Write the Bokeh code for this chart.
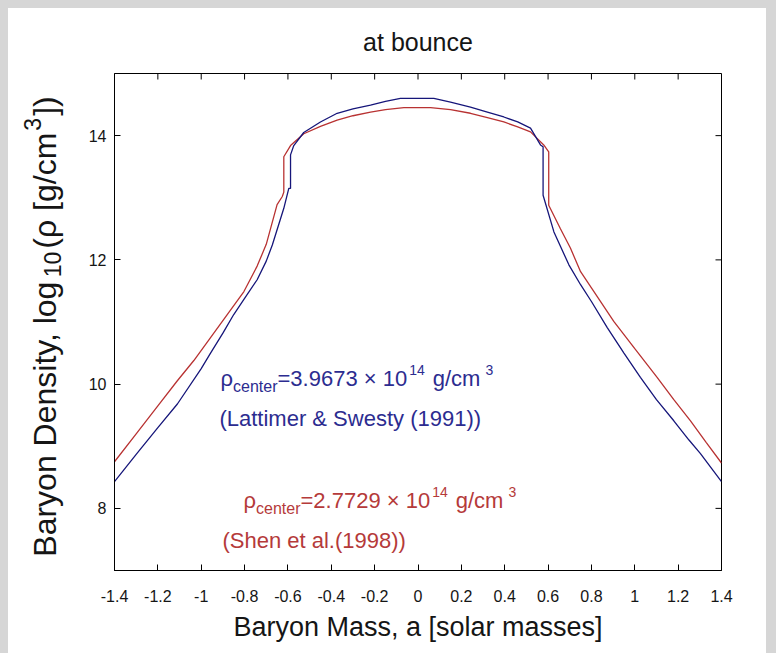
import math
from bokeh.plotting import figure
from bokeh.layouts import row
from bokeh.models import Range1d, FixedTicker, Label
from bokeh.core.properties import value
from bokeh.embed import file_html
from bokeh.resources import INLINE

# ---------------- data ----------------
x_blue = [-1.40, -1.30, -1.20, -1.11, -1.00, -0.957, -0.90, -0.85, -0.80, -0.742, -0.70, -0.672,
          -0.619, -0.596, -0.588, -0.588, -0.573, -0.527, -0.45, -0.373, -0.30, -0.219, -0.15,
          -0.081, 0.0, 0.073, 0.15, 0.242, 0.32, 0.396, 0.46, 0.519, 0.565, 0.577, 0.577, 0.627,
          0.696, 0.75, 0.80, 0.873, 0.95, 1.026, 1.10, 1.18, 1.25, 1.303, 1.40]
y_blue = [8.43, 8.87, 9.30, 9.68, 10.25, 10.50, 10.82, 11.12, 11.38, 11.68, 11.98, 12.24,
          12.83, 13.15, 13.15, 13.69, 13.84, 14.05, 14.22, 14.36, 14.43, 14.49, 14.55,
          14.60, 14.60, 14.60, 14.54, 14.46, 14.38, 14.30, 14.22, 14.12, 13.85, 13.82, 13.04, 12.45,
          11.92, 11.60, 11.33, 10.91, 10.50, 10.11, 9.75, 9.41, 9.10, 8.88, 8.43]

x_red = [-1.40, -1.30, -1.20, -1.111, -1.034, -0.957, -0.88, -0.803, -0.742, -0.70, -0.65, -0.626,
         -0.619, -0.619, -0.588, -0.527, -0.45, -0.373, -0.30, -0.219, -0.15, -0.065, 0.058, 0.15,
         0.242, 0.32, 0.396, 0.46, 0.519, 0.58, 0.603, 0.603, 0.657, 0.703, 0.75, 0.80, 0.903,
         1.00, 1.103, 1.18, 1.257, 1.33, 1.40]
y_red = [8.75, 9.20, 9.65, 10.05, 10.38, 10.75, 11.12, 11.49, 11.90, 12.25, 12.89, 13.02,
         13.09, 13.66, 13.84, 14.03, 14.15, 14.25, 14.32, 14.38, 14.42, 14.45, 14.45, 14.42,
         14.36, 14.29, 14.22, 14.14, 14.06, 13.85, 13.74, 12.88, 12.50, 12.19, 11.81, 11.55, 11.01,
         10.57, 10.11, 9.75, 9.41, 9.06, 8.73]

x_ticks = [-1.4, -1.2, -1.0, -0.8, -0.6, -0.4, -0.2, 0.0, 0.2, 0.4, 0.6, 0.8, 1.0, 1.2, 1.4]
x_tick_labels = ["-1.4", "-1.2", "-1", "-0.8", "-0.6", "-0.4", "-0.2", "0", "0.2", "0.4",
                 "0.6", "0.8", "1", "1.2", "1.4"]
y_ticks = [8, 10, 12, 14]
x_limits = [-1.4, 1.4]
y_limits = [7, 15]

title_text = "at bounce"
x_label_text = "Baryon Mass, a [solar masses]"
blue_center = "3.9673"
red_center = "2.7729"
blue_ref = "(Lattimer & Swesty (1991))"
red_ref = "(Shen et al.(1998))"

# ---------------- styling ----------------
FONT = "Liberation Sans"
INK = "#151515"
BLUE_LINE = "#16167a"
RED_LINE = "#b83232"
BLUE_TEXT = "#2c2c90"
RED_TEXT = "#b53a3a"
TOTAL_H = 645
TOP_B, BOT_B = 65, 83
FRAME_W, FRAME_H = 607, TOTAL_H - TOP_B - BOT_B
LAB_W = 68
TICK = 6

W = {'ρ': 570, 'c': 500, 'e': 556, 'n': 556, 't': 278, 'r': 333, '=': 584, '.': 278, ' ': 278,
     '×': 584, 'g': 556, '/': 278, 'm': 833, '(': 333, ')': 333, 'L': 556, 'a': 556, 'i': 222,
     '&': 667, 'S': 667, 'w': 722, 's': 500, 'y': 500, 'h': 556, 'l': 222, '[': 278, ']': 278,
     'B': 667, 'o': 556, 'D': 722, ',': 278}


def tw(s, size):
    return sum(W.get(ch, 556) for ch in s) * size / 1000.0


# ---------------- main plot ----------------
p = figure(width=758 - LAB_W, height=TOTAL_H, x_range=Range1d(*x_limits), y_range=Range1d(*y_limits),
           output_backend="svg", toolbar_location=None,
           min_border_left=106 - LAB_W, min_border_right=45, min_border_top=TOP_B, min_border_bottom=BOT_B,
           background_fill_color="white", border_fill_color="white")
p.grid.visible = False
p.outline_line_color = "black"
p.outline_line_width = 1

p.title.text = title_text
p.title.align = "center"
p.title.vertical_align = "middle"
p.title.text_font = FONT
p.title.text_font_size = "25px"
p.title.text_font_style = "normal"
p.title.text_color = INK
p.title.standoff = 34

p.line(x_red, y_red, line_color=RED_LINE, line_width=1.3)
p.line(x_blue, y_blue, line_color=BLUE_LINE, line_width=1.3)


def style_axis(ax):
    ax.major_tick_in = TICK
    ax.major_tick_out = 0
    ax.minor_tick_line_color = None
    ax.axis_line_color = "black"
    ax.axis_line_width = 1
    ax.major_tick_line_color = "black"
    ax.major_label_text_font = FONT
    ax.major_label_text_font_size = "16px"
    ax.major_label_text_color = INK
    ax.axis_label_text_font = FONT
    ax.axis_label_text_font_size = "27px"
    ax.axis_label_text_font_style = "normal"
    ax.axis_label_text_color = INK


xa = p.xaxis[0]
xa.ticker = FixedTicker(ticks=x_ticks)
xa.major_label_overrides = {t: s for t, s in zip(x_ticks, x_tick_labels)}
style_axis(xa)
xa.major_label_standoff = 19
xa.axis_label = x_label_text
xa.axis_label_standoff = 7

ya = p.yaxis[0]
ya.ticker = FixedTicker(ticks=y_ticks)
style_axis(ya)
ya.major_label_standoff = 8

# inward ticks on the top and right edges of the box (no labels there)
dy_tick = TICK * (y_limits[1] - y_limits[0]) / FRAME_H
dx_tick = TICK * (x_limits[1] - x_limits[0]) / FRAME_W
p.segment(x0=x_ticks, y0=[y_limits[1]] * len(x_ticks), x1=x_ticks,
          y1=[y_limits[1] - dy_tick] * len(x_ticks), line_color="black", line_width=1)
p.segment(x0=[x_limits[1]] * len(y_ticks), y0=y_ticks, x1=[x_limits[1] - dx_tick] * len(y_ticks),
          y1=y_ticks, line_color="black", line_width=1)


def place(pieces, x0, y0, color):
    off = 0.0
    for text, size, dy, gap in pieces:
        off += gap
        p.add_layout(Label(x=x0, y=y0, x_offset=off, y_offset=dy, text=text, text_font=FONT,
                           text_font_size=f"{size}px", text_color=color,
                           text_align="left", text_baseline="alphabetic"))
        off += tw(text, size)


M, S, U = 22, 16, 14


def line1(val):
    return [("ρ", M, 0, 0), ("center", S, -8, 0), ("=" + val + " × 10", M, 0, 0),
            ("14", U, 9, 2), ("g/cm", M, 0, 8), ("3", U, 9, 5)]


place(line1(blue_center), -0.911, 10.09, BLUE_TEXT)
place([(blue_ref, M, 0, 0)], -0.916, 9.44, BLUE_TEXT)
place(line1(red_center), -0.805, 8.12, RED_TEXT)
place([(red_ref, M, 0, 0)], -0.902, 7.48, RED_TEXT)

# ---------------- y-axis label strip (rotated, with sub/superscripts) ----------------
lf = figure(width=LAB_W, height=TOTAL_H, x_range=Range1d(0, LAB_W), y_range=Range1d(0, FRAME_H),
            output_backend="svg", toolbar_location=None, x_axis_location=None, y_axis_location=None,
            min_border_left=0, min_border_right=0, min_border_top=TOP_B, min_border_bottom=BOT_B,
            background_fill_color="white", border_fill_color="white")
lf.grid.visible = False
lf.outline_line_color = None

YF, YS = 32, 23
ANCHOR_X = 36          # px from the strip's left edge (rendered baseline lands ~11px to its right)
ylab = [("Baryon Density, log", YF, 0, 0), ("10", YS, 8, 2), ("(ρ [g/cm", YF, 0, 3),
        ("3", YS, -12, 2), ("])", YF, 0, 2)]
total = sum(tw(t, s) + g for t, s, _, g in ylab)
center_v = TOTAL_H - BOT_B - 326 + 8
v = center_v - total / 2.0
for text, size, dx, gap in ylab:
    v += gap
    lf.text(x=[0], y=[v], x_offset=ANCHOR_X + dx, text=[text], angle=math.pi / 2,
            text_font=value(FONT), text_font_size=value(f"{size}px"), text_color=INK,
            text_align="left", text_baseline="alphabetic")
    v += tw(text, size)

layout = row(lf, p, spacing=0, styles={"background-color": "white"})
html = file_html(layout, INLINE)
html = html.replace("</head>", "<style>html,body{background:#d6d6d6;}body{margin:8px;}</style></head>", 1)
open("out.html", "w").write(html)
